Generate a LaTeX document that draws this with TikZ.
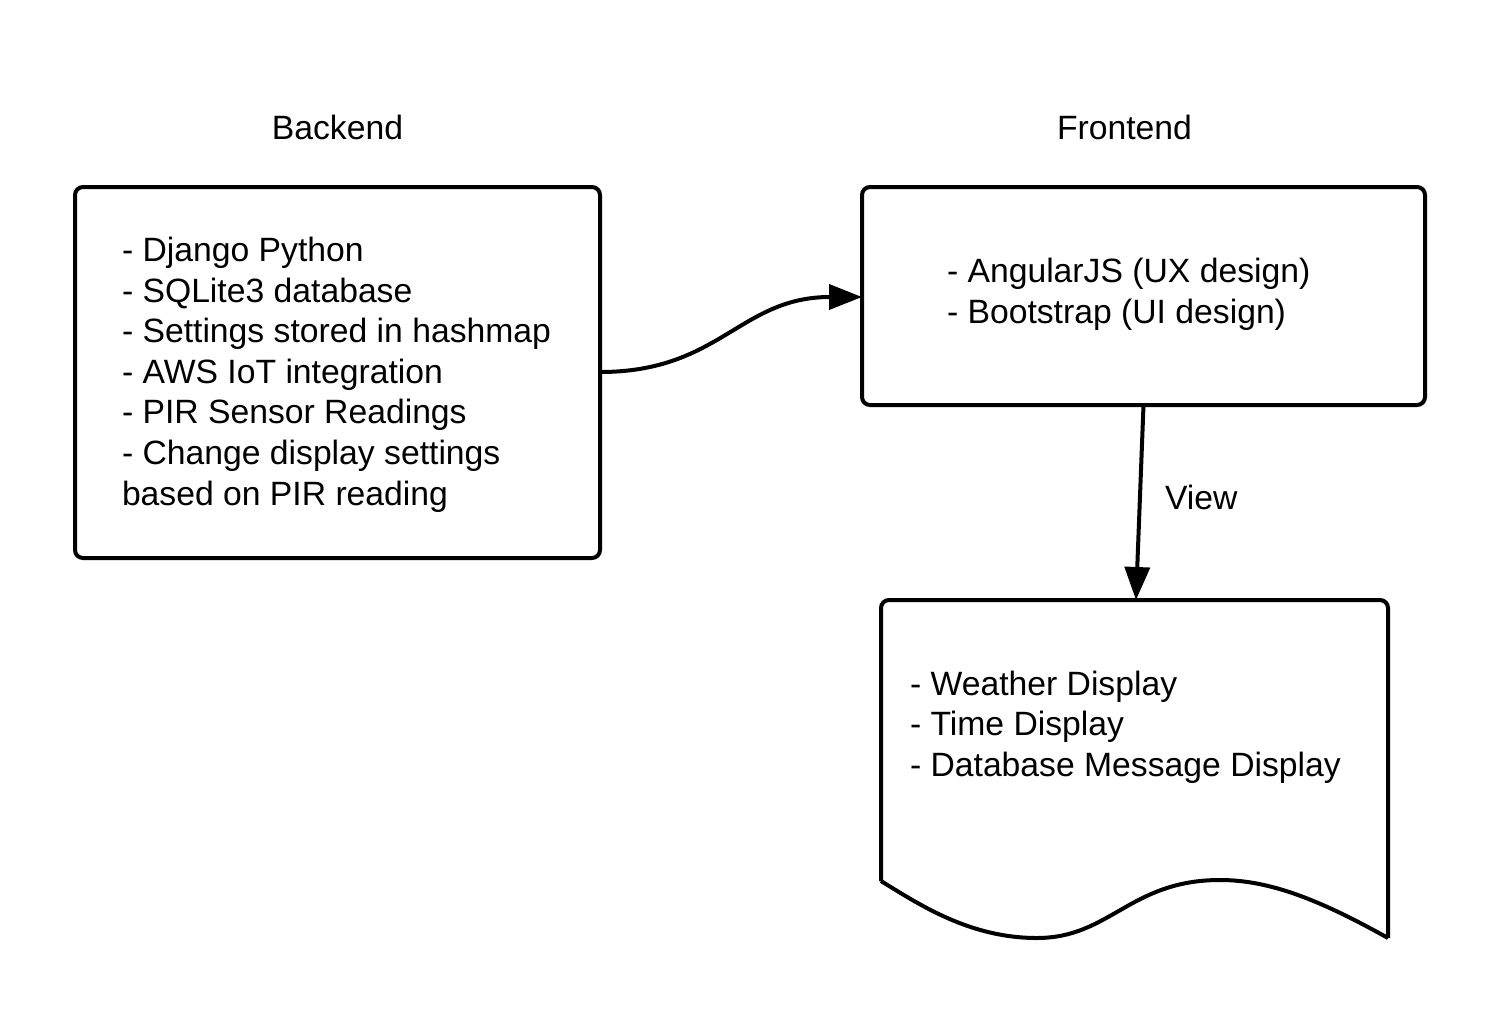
\documentclass[tikz,border=0pt]{standalone}
\usepackage{fontspec}
\setmainfont{Liberation Sans}
\usetikzlibrary{arrows.meta}
\begin{document}
\begin{tikzpicture}[x=1pt,y=-1pt,
  every node/.style={inner sep=0pt,outer sep=0pt,font=\fontsize{33.7}{40.6}\selectfont},
  boxstyle/.style={draw,line width=4pt,rounded corners=8pt},
  txt/.style={align=left,anchor=west},
  conn/.style={line width=4pt,-{Triangle[length=33pt,width=25pt]}}]
\useasboundingbox (0,0) rectangle (1500,1013);
\fill[white] (0,0) rectangle (1500,1013);
% titles
\node[anchor=base] (tb) at (337.5,139) {Backend};
\node[anchor=base] (tf) at (1124.5,139) {Frontend};
% boxes
\node[boxstyle,minimum width=525pt,minimum height=371pt] (be) at (337.5,372.5) {};
\node[boxstyle,minimum width=563pt,minimum height=218pt] (fe) at (1143.5,296) {};
\node[minimum width=507pt,minimum height=338pt] (doc) at (1134.5,769) {};
\draw[line width=4pt,rounded corners=8pt] (881,881) -- (881,600) -- (1388,600) -- (1388,938);
\draw[line width=4pt] (1388,938) .. controls (1320,900) and (1270,880) .. (1220,880)
  .. controls (1130,880) and (1110,938) .. (1037,938)
  .. controls (970,938) and (920,905) .. (881,881);
% texts
\node[txt] (bt) at (122,374.5) {- Django Python\\- SQLite3 database\\- Settings stored in hashmap\\- AWS IoT integration\\- PIR Sensor Readings\\- Change display settings\\based on PIR reading};
\node[txt] (ft) at (947,294) {- AngularJS (UX design)\\- Bootstrap (UI design)};
\node[txt] (dt) at (910,727) {- Weather Display\\- Time Display\\- Database Message Display};
% connectors
\draw[conn] (be.east |- 0,372) .. controls (720,372) and (740,297) .. (fe.west |- 0,297);
\draw[conn] (fe.south) -- (1136,600);
\node[anchor=base west] (view) at (1165,509) {View};
\end{tikzpicture}
\end{document}
